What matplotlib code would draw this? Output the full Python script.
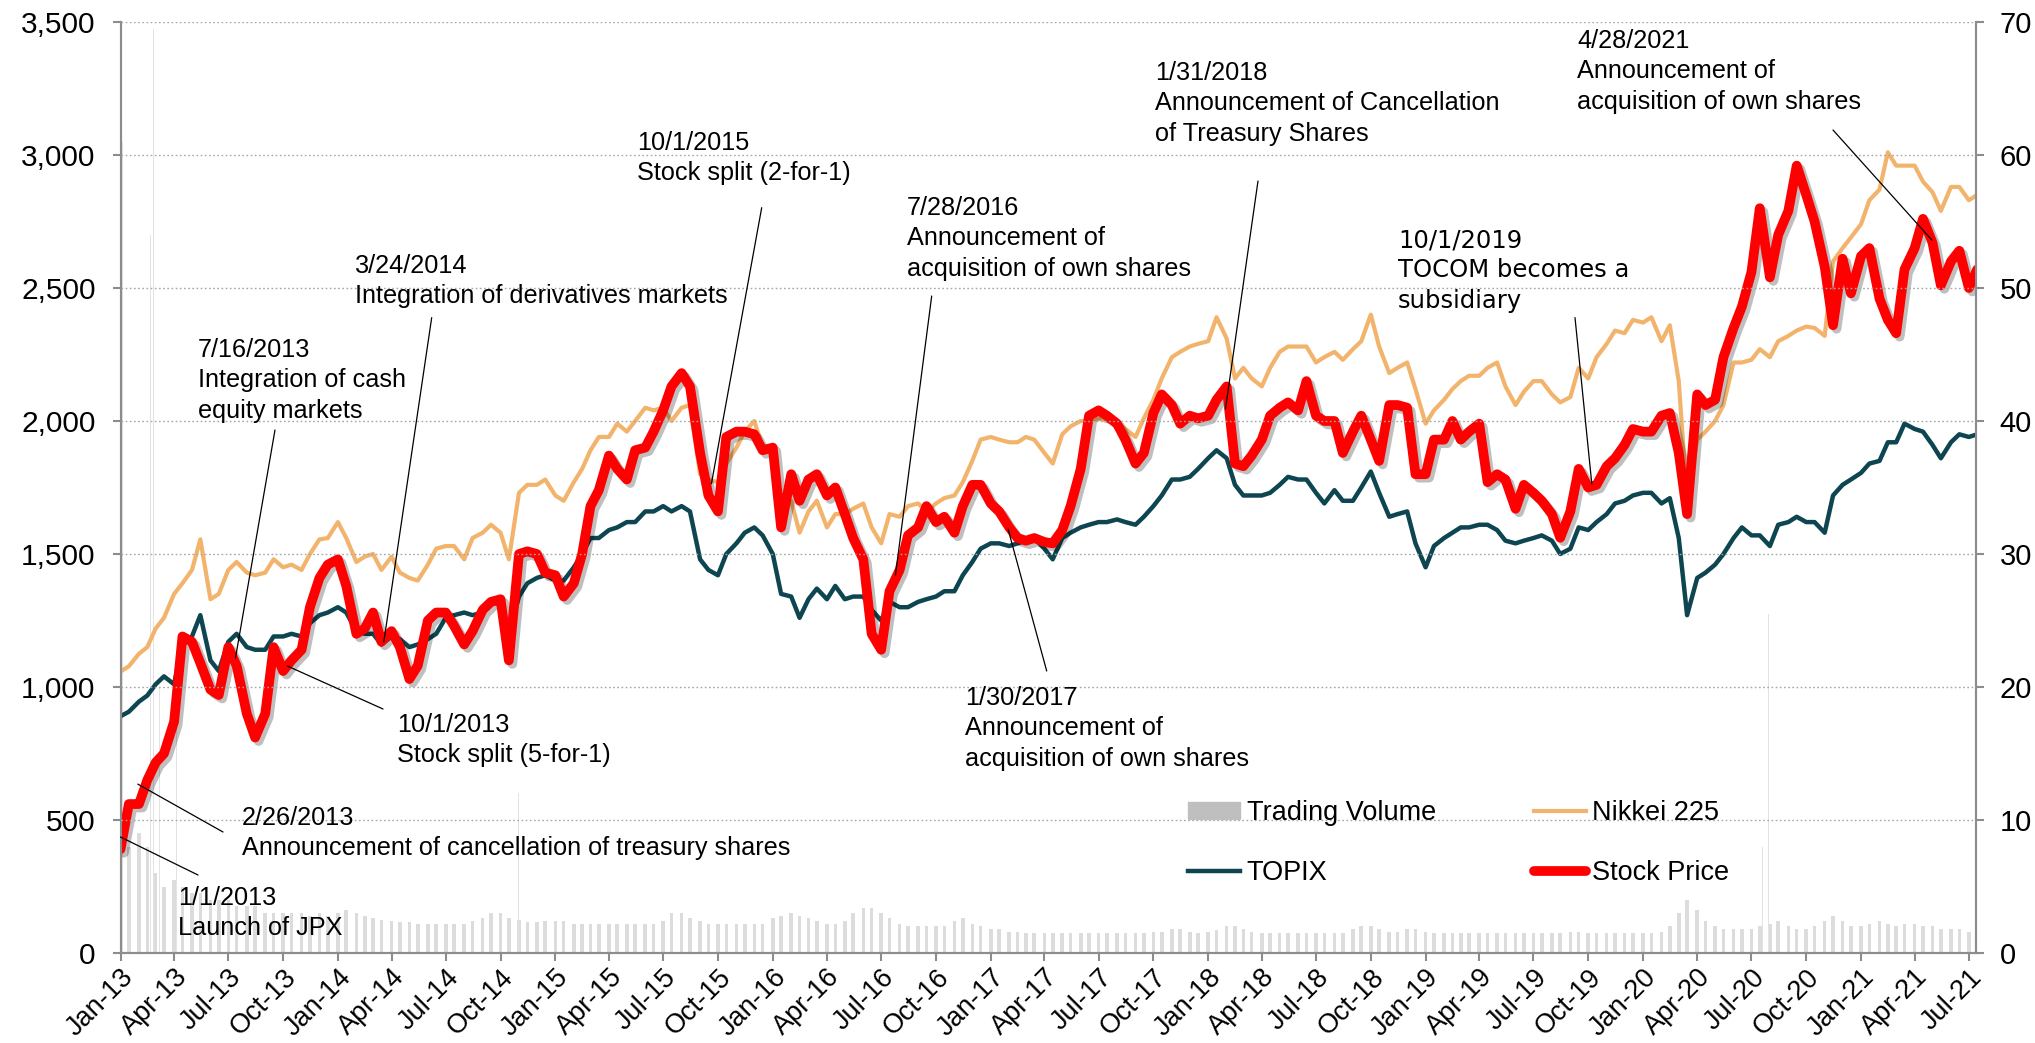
import matplotlib
matplotlib.use("Agg")
import matplotlib.pyplot as plt
import matplotlib.dates as mdates
import matplotlib.patheffects as pe
from matplotlib.patches import Patch
from matplotlib.lines import Line2D
import pandas as pd

# ---------------- data (half-month sampling, Jan 2013 - Jul 2021) ----------------
start = pd.Timestamp("2013-01-01")
n_pts = 206
dates = [start + pd.DateOffset(months=i // 2) + pd.Timedelta(days=14 * (i % 2)) for i in range(n_pts)]

nikkei = [
    1058, 1078, 1125, 1150, 1220, 1260, 1350, 1390, 1440, 1555, 1330, 1350, 1440, 1470, 1430, 1420, 1430, 1480,
    1450, 1460, 1440, 1500, 1555, 1560, 1620, 1560, 1470,
    1490, 1500, 1440, 1490, 1430, 1410, 1400, 1460, 1520, 1530, 1530, 1480, 1560, 1580, 1610, 1580, 1480, 1730,
    1760, 1760, 1780, 1720, 1700, 1770, 1820, 1890,
    1940, 1940, 1990, 1960, 2000, 2050, 2040, 2050, 2000, 2050, 2060, 1800, 1780, 1770, 1840, 1900, 1960, 2000,
    1900, 1880, 1700, 1700, 1580, 1660, 1700, 1600, 1650,
    1650, 1670, 1690, 1600, 1540, 1650, 1640, 1680, 1690, 1660, 1690, 1710, 1720, 1770, 1850, 1930, 1940, 1930,
    1920, 1920, 1940, 1930, 1880, 1840, 1950, 1980,
    2000, 2000, 2010, 2000, 1990, 1970, 1940, 2010, 2080, 2160, 2240, 2260, 2280, 2290, 2300, 2390, 2310, 2160,
    2200, 2160, 2130, 2200, 2260, 2280, 2280, 2280, 2220,
    2240, 2260, 2230, 2270, 2300, 2400, 2280, 2180, 2200, 2220, 2120, 1990, 2040, 2080, 2120, 2150, 2170, 2170,
    2200, 2220, 2130, 2060, 2110, 2150, 2150, 2100,
    2070, 2090, 2200, 2160, 2240, 2290, 2340, 2330, 2380, 2370, 2390, 2300, 2360, 2150, 1700, 1930, 1960, 2000,
    2060, 2220, 2220, 2230, 2270, 2240, 2300, 2320, 2340,
    2355, 2350, 2320, 2600, 2650, 2690, 2740, 2830, 2870, 3010, 2960, 2960, 2960, 2900, 2860, 2790, 2880, 2880,
    2830, 2850,
]

topix = [
    890, 907, 945, 968, 1010, 1040, 1010, 1170, 1190, 1270, 1100, 1060, 1170, 1200, 1150, 1140, 1140, 1190,
    1190, 1200, 1190, 1240, 1270, 1280, 1300, 1280, 1210,
    1200, 1200, 1160, 1190, 1180, 1150, 1160, 1180, 1200, 1260, 1270, 1280, 1270, 1280, 1320, 1310, 1200, 1340,
    1390, 1410, 1420, 1400, 1400, 1450, 1500, 1560,
    1560, 1590, 1600, 1620, 1620, 1660, 1660, 1680, 1660, 1680, 1660, 1480, 1440, 1420, 1500, 1540, 1580, 1600,
    1570, 1500, 1350, 1340, 1260, 1330, 1370, 1330, 1380,
    1330, 1340, 1340, 1290, 1250, 1320, 1300, 1300, 1320, 1330, 1340, 1360, 1360, 1420, 1470, 1520, 1540, 1540,
    1530, 1540, 1550, 1560, 1520, 1480, 1560, 1580,
    1600, 1610, 1620, 1620, 1630, 1620, 1610, 1640, 1680, 1720, 1780, 1780, 1790, 1820, 1860, 1890, 1860, 1760,
    1720, 1720, 1720, 1730, 1760, 1790, 1780, 1780, 1730,
    1690, 1740, 1700, 1700, 1750, 1810, 1730, 1640, 1650, 1660, 1540, 1450, 1530, 1560, 1580, 1600, 1600, 1610,
    1610, 1590, 1550, 1540, 1550, 1560, 1570, 1550,
    1500, 1520, 1600, 1590, 1620, 1650, 1690, 1700, 1720, 1730, 1730, 1690, 1710, 1560, 1270, 1410, 1430, 1460,
    1500, 1560, 1600, 1570, 1570, 1530, 1610, 1620, 1640,
    1620, 1620, 1580, 1720, 1760, 1780, 1805, 1840, 1850, 1920, 1920, 1990, 1970, 1960, 1910, 1860, 1920, 1950,
    1940, 1950,
]

stock = [
    390, 560, 560, 650, 716, 750, 870, 1190, 1170, 1090, 990, 970, 1150, 1080, 900, 810, 900, 1150,
    1060, 1100, 1140, 1300, 1410, 1460, 1480, 1380, 1200,
    1220, 1280, 1170, 1210, 1150, 1030, 1080, 1250, 1280, 1280, 1230, 1160, 1210, 1290, 1320, 1330, 1100, 1500,
    1510, 1500, 1430, 1420, 1340, 1390, 1500, 1680,
    1740, 1870, 1820, 1780, 1890, 1900, 1960, 2040, 2130, 2180, 2130, 1880, 1720, 1660, 1940, 1960, 1960, 1950,
    1890, 1900, 1600, 1800, 1700, 1780, 1800, 1720, 1750,
    1650, 1560, 1480, 1200, 1140, 1360, 1440, 1570, 1600, 1680, 1620, 1640, 1580, 1680, 1760, 1760, 1690, 1660,
    1600, 1560, 1550, 1560, 1545, 1540, 1590, 1680,
    1820, 2020, 2040, 2020, 1990, 1930, 1840, 1880, 2030, 2100, 2060, 1990, 2020, 2010, 2020, 2080, 2130, 1840,
    1830, 1870, 1930, 2020, 2050, 2070, 2040, 2150, 2020,
    2000, 2000, 1880, 1960, 2020, 1930, 1850, 2060, 2060, 2050, 1800, 1800, 1930, 1930, 2000, 1930, 1960, 1990,
    1770, 1800, 1780, 1670, 1760, 1730, 1700, 1650,
    1561, 1660, 1820, 1750, 1760, 1830, 1860, 1910, 1970, 1960, 1960, 2020, 2030, 1880, 1650, 2100, 2060, 2080,
    2240, 2350, 2430, 2560, 2800, 2540, 2700, 2790, 2960,
    2850, 2750, 2580, 2360, 2610, 2480, 2620, 2650, 2460, 2380, 2330, 2570, 2650, 2760, 2670, 2510, 2600, 2640,
    2500, 2570,
]

volume = [
    7, 8, 9, 8, 6, 5, 5.5, 5, 4.5, 4.5, 4, 4, 4, 3.5, 3.5, 3.5, 3, 3, 3, 3, 3, 2.8, 3, 2.8,
    3, 3.2, 3, 2.8, 2.6, 2.5, 2.4, 2.3, 2.3, 2.2, 2.2, 2.2, 2.2, 2.2, 2.2, 2.4, 2.6, 3.0, 3.0, 2.6, 2.5, 2.3,
    2.3, 2.4,
    2.4, 2.4, 2.2, 2.2, 2.2, 2.2, 2.2, 2.2, 2.2, 2.2, 2.2, 2.2, 2.4, 3.0, 3.0, 2.6, 2.4, 2.2, 2.2, 2.2, 2.2, 2.2,
    2.2, 2.2,
    2.6, 2.8, 3.0, 2.8, 2.6, 2.4, 2.2, 2.2, 2.4, 3.0, 3.4, 3.4, 3.0, 2.6, 2.2, 2.0, 2.0, 2.0, 2.0, 2.0, 2.4, 2.6,
    2.2, 2.0,
    1.8, 1.8, 1.6, 1.6, 1.5, 1.5, 1.5, 1.5, 1.5, 1.5, 1.5, 1.5, 1.5, 1.5, 1.5, 1.5, 1.5, 1.5, 1.6, 1.6, 1.8, 1.8,
    1.6, 1.5,
    1.6, 1.7, 2.0, 2.0, 1.8, 1.6, 1.5, 1.5, 1.5, 1.5, 1.5, 1.5, 1.5, 1.5, 1.5, 1.5, 1.8, 2.0, 2.0, 1.8, 1.6, 1.6,
    1.8, 1.8,
    1.6, 1.5, 1.5, 1.5, 1.5, 1.5, 1.5, 1.5, 1.5, 1.5, 1.5, 1.5, 1.5, 1.5, 1.5, 1.5, 1.6, 1.6, 1.5, 1.5, 1.5, 1.5,
    1.5, 1.5,
    1.5, 1.5, 1.6, 2.0, 3.0, 4.0, 3.2, 2.4, 2.0, 1.8, 1.8, 1.8, 1.8, 2.0, 2.2, 2.4, 2.0, 1.8, 1.8, 2.0, 2.4, 2.8,
    2.4, 2.0,
    2.0, 2.2, 2.4, 2.2, 2.0, 2.2, 2.2, 2.0, 2.0, 1.8, 1.8, 1.8, 1.6, 1.6,
]

spike_dates = ["2013-01-04", "2013-01-10", "2013-02-20", "2013-02-25", "2013-03-08", "2013-04-05",
               "2013-05-23", "2014-02-14", "2014-10-31", "2016-06-24", "2020-03-13", "2020-07-20",
               "2020-07-30", "2021-03-19"]
spike_vals = [61, 25, 54, 69.5, 20, 17, 14, 12, 12, 6, 6, 8, 25.5, 6.5]

ann_texts = [
    "1/1/2013\nLaunch of JPX",
    "2/26/2013\nAnnouncement of cancellation of treasury shares",
    "7/16/2013\nIntegration of cash\nequity markets",
    "3/24/2014\nIntegration of derivatives markets",
    "10/1/2013\nStock split (5-for-1)",
    "10/1/2015\nStock split (2-for-1)",
    "7/28/2016\nAnnouncement of\nacquisition of own shares",
    "1/30/2017\nAnnouncement of\nacquisition of own shares",
    "1/31/2018\nAnnouncement of Cancellation\nof Treasury Shares",
    "10/1/2019\nTOCOM becomes a\nsubsidiary",
    "4/28/2021\nAnnouncement of\nacquisition of own shares",
]
ann_x = ["2013-01-01", "2013-01-30", "2013-07-13", "2014-03-19", "2013-10-08", "2015-09-20",
         "2016-07-25", "2017-01-30", "2018-01-30", "2019-10-07", "2021-04-30"]
ann_y = [436, 635, 1109, 1169, 1079, 1764, 1421, 1594, 2045, 1764, 2680]

# ---------------- layout (pixel positions from the top-left of the image) ----------------
W, H = 2035, 1043
text_pos = [(178, 886), (242, 806), (198, 338), (355, 254), (397, 713), (637, 131), (907, 196), (965, 686),
            (1155, 61), (1398, 228), (1577, 29)]
line_end = [(198, 875), (223, 832), (275, 430), (431.7, 317.6), (383, 709), (761.7, 207.7), (931.7, 296),
            (1046.7, 671), (1258, 181), (1575, 317.6), (1833, 130)]
ann_family = ["Liberation Sans"] * 9 + ["DejaVu Sans", "Liberation Sans"]

FONT = "Liberation Sans"
plt.rcParams["font.family"] = [FONT, "DejaVu Sans"]

C_RED = "#FF0000"
C_TEAL = "#0D4651"
C_ORANGE = "#F2B46C"
C_VOL = "#DCDCDC"
C_GRID = "#A6A6A6"
C_SPINE = "#8C8C8C"

fig = plt.figure(figsize=(W / 100, H / 100), dpi=100)
ax = fig.add_axes([120.5 / W, 90 / H, (1976 - 120.5) / W, (953 - 22) / H])
ax2 = ax.twinx()
ax.set_zorder(ax2.get_zorder() + 1)
ax.patch.set_visible(False)

x = mdates.date2num(dates)
ax2.bar(x, volume, width=6, color=C_VOL, align="center", linewidth=0)
ax2.bar(mdates.date2num(pd.to_datetime(spike_dates)), spike_vals, width=1.2, color="#E3E3E3", linewidth=0)

ax.plot(x, nikkei, color=C_ORANGE, lw=3.0, solid_joinstyle="round")
ax.plot(x, topix, color=C_TEAL, lw=3.2, solid_joinstyle="round")
ax.plot(x, stock, color=C_RED, lw=7, solid_joinstyle="round", solid_capstyle="round",
        path_effects=[pe.SimpleLineShadow(offset=(2.5, -2.5), shadow_color="k", alpha=0.25), pe.Normal()])

xmin = mdates.date2num(pd.Timestamp("2013-01-01"))
xmax = mdates.date2num(pd.Timestamp("2021-07-13"))
ax.set_xlim(xmin, xmax)
ax.set_ylim(0, 3500)
ax2.set_ylim(0, 70)

ax.set_yticks(range(0, 3501, 500))
ax.yaxis.set_major_formatter(matplotlib.ticker.FuncFormatter(lambda v, p: f"{int(v):,}"))
ax2.set_yticks(range(0, 71, 10))
ax.xaxis.set_major_locator(mdates.MonthLocator(bymonth=[1, 4, 7, 10]))
ax.xaxis.set_major_formatter(mdates.DateFormatter("%b-%y"))

ax.grid(axis="y", color=C_GRID, linestyle=(0, (1.2, 1.8)), linewidth=1.0)
ax.set_axisbelow(False)

for a in (ax, ax2):
    a.spines["top"].set_visible(False)
    for s in ("left", "right", "bottom"):
        a.spines[s].set_color(C_SPINE)
        a.spines[s].set_linewidth(1.5)
ax.tick_params(axis="y", labelsize=21.5, length=6, color=C_SPINE, width=1.5, pad=12)
ax2.tick_params(axis="y", labelsize=21, length=6, color=C_SPINE, width=1.5, pad=11)
ax.tick_params(axis="x", labelsize=19.5, length=6, color=C_SPINE, width=1.5, pad=2)
for lab in ax.get_xticklabels():
    lab.set_rotation(45)
    lab.set_ha("right")
    lab.set_va("top")
    lab.set_rotation_mode("anchor")

# annotations
for txt, dx, dy, (tx, ty), (lx, ly), fam in zip(ann_texts, ann_x, ann_y, text_pos, line_end, ann_family):
    ax.annotate("", xy=(mdates.date2num(pd.Timestamp(dx)), dy), xycoords="data",
                xytext=(lx, H - ly), textcoords="figure pixels",
                arrowprops=dict(arrowstyle="-", color="black", lw=0.9, shrinkA=0, shrinkB=0), zorder=5)
    fig.text(tx / W, 1 - ty / H, txt, ha="left", va="top", fontsize=18.2 if fam == FONT else 17.5,
             family=[fam, "DejaVu Sans"], linespacing=1.33)

handles = [Patch(color="#BFBFBF"), Line2D([], [], color=C_TEAL, lw=3.2),
           Line2D([], [], color=C_ORANGE, lw=3.0), Line2D([], [], color=C_RED, lw=7, solid_capstyle="round")]
labels = ["Trading Volume", "TOPIX", "Nikkei 225", "Stock Price"]
ax.legend(handles, labels, ncol=2, loc="upper left", bbox_to_anchor=(1188 / W, 1 - 800 / H),
          bbox_transform=fig.transFigure, frameon=False, fontsize=19.5, handlelength=1.93,
          handletextpad=0.24, columnspacing=3.6, labelspacing=1.25, borderpad=0, borderaxespad=0,
          handleheight=0.6)

fig.savefig("out.png", dpi=100, facecolor="white")
